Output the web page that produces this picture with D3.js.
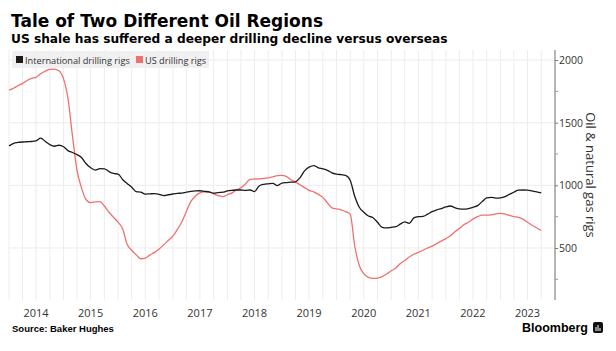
<!DOCTYPE html>
<html>
<head>
<meta charset="utf-8">
<script src="https://cdn.jsdelivr.net/npm/d3@7"></script>
<style>
  body { margin: 0; background: #fff; }
  svg { display: block; }
  text { font-family: "Open Sans", "Noto Sans", sans-serif; }
</style>
</head>
<body>
<div id="chart"></div>
<script>
// monthly readings, Jan 2014 onwards
const startYear = 2014;
const intlRigs = [
  1315, 1335, 1342, 1346, 1348, 1350, 1355, 1376, 1350, 1325, 1312, 1320,
  1308, 1275, 1262, 1245, 1222, 1172, 1140, 1122, 1133, 1132, 1110, 1095,
  1090, 1045, 1015, 985, 950, 945, 930, 932, 934, 928, 918, 925,
  931, 936, 938, 945, 952, 956, 957, 952, 948, 937, 942, 945,
  955, 960, 963, 963, 960, 963, 950, 995, 1008, 1012, 1015, 998,
  1018, 1022, 1025, 1028, 1060, 1115, 1145, 1157, 1140, 1132, 1120, 1100,
  1090, 1085, 1080, 1040, 915, 825, 785, 755, 742, 705, 665, 660,
  665, 670, 690, 708, 697, 740, 750, 752, 770, 790, 805, 815,
  828, 835, 822, 812, 810, 815, 825, 838, 870, 900, 904, 898,
  900, 910, 928, 945, 962, 963, 962, 955, 948, 940
];
const usRigs = [
  1760, 1775, 1795, 1812, 1835, 1854, 1862, 1890, 1912, 1925, 1928, 1915,
  1850, 1680, 1400, 1120, 980, 885, 862, 868, 870, 835, 785, 745,
  705, 650, 530, 482, 445, 414, 420, 445, 465, 492, 525, 560,
  595, 650, 705, 790, 870, 915, 940, 948, 945, 932, 918, 910,
  925, 940, 963, 980, 1010, 1048, 1050, 1052, 1055, 1060, 1068, 1078,
  1080, 1069, 1045, 1028, 1005, 982, 960, 948, 928, 904, 860, 820,
  812, 805, 790, 770, 520, 360, 295, 266, 258, 260, 272, 292,
  318, 340, 375, 400, 428, 450, 465, 482, 500, 515, 535, 555,
  575, 598, 628, 655, 685, 705, 730, 750, 763, 763, 765, 772,
  776, 771, 760, 750, 745, 730, 705, 682, 660, 640
];
const years = d3.range(2014, 2024);
const yTicks = [500, 1000, 1500, 2000];
const yMinor = [250, 750, 1250, 1750];
const seriesNames = ["International drilling rigs", "US drilling rigs"];
const seriesColors = ["#1a1a1a", "#f07070"];

const width = 616, height = 351;
const plot = {left: 9, right: 555, top: 50, bottom: 300};

const svg = d3.select("#chart").append("svg")
    .attr("width", width)
    .attr("height", height);

const x = d3.scaleTime()
    .domain([new Date(2014, 0, 1), new Date(2024, 0, 1)])
    .range([plot.left, plot.right]);

const y = d3.scaleLinear()
    .domain([85, 2080])
    .range([plot.bottom, plot.top]);

// title block
svg.append("text")
    .attr("x", 11).attr("y", 27)
    .style("font-family", "'DejaVu Sans', sans-serif")
    .style("font-weight", "bold")
    .style("font-size", "17px")
    .attr("fill", "#000")
    .text("Tale of Two Different Oil Regions");

svg.append("text")
    .attr("x", 11).attr("y", 43)
    .style("font-family", "'DejaVu Sans', sans-serif")
    .style("font-weight", "bold")
    .style("font-size", "12.2px")
    .attr("fill", "#000")
    .text("US shale has suffered a deeper drilling decline versus overseas");

// gridlines
const quarters = d3.timeMonth.every(3).range(new Date(2014, 0, 1), new Date(2024, 0, 2));
svg.append("g")
    .selectAll("line")
    .data(quarters)
    .join("line")
    .attr("x1", d => x(d)).attr("x2", d => x(d))
    .attr("y1", plot.top).attr("y2", plot.bottom)
    .attr("stroke", "#ececec")
    .attr("stroke-width", 1);

svg.append("g")
    .selectAll("line")
    .data(yTicks)
    .join("line")
    .attr("x1", plot.left).attr("x2", plot.right)
    .attr("y1", d => y(d)).attr("y2", d => y(d))
    .attr("stroke", "#ececec")
    .attr("stroke-width", 1);

// legend
const legend = svg.append("g");
legend.append("rect")
    .attr("x", 12).attr("y", 51)
    .attr("width", 197).attr("height", 17)
    .attr("fill", "#f0f0f0");
const legX = [16, 136];
seriesNames.forEach((name, i) => {
    legend.append("rect")
        .attr("x", legX[i]).attr("y", 56)
        .attr("width", 7).attr("height", 7)
        .attr("fill", seriesColors[i]);
    legend.append("text")
        .attr("x", legX[i] + 9).attr("y", 63.5)
        .style("font-size", "9.2px")
        .attr("fill", "#333")
        .text(name);
});

// lines
const line = d3.line()
    .x((d, i) => x(new Date(startYear, i, 1)))
    .y(d => y(d))
    .curve(d3.curveMonotoneX);

svg.append("path")
    .datum(usRigs)
    .attr("fill", "none")
    .attr("stroke", seriesColors[1])
    .attr("stroke-width", 1.3)
    .attr("d", line);

svg.append("path")
    .datum(intlRigs)
    .attr("fill", "none")
    .attr("stroke", seriesColors[0])
    .attr("stroke-width", 1.3)
    .attr("d", line);

// right axis
const yAxis = svg.append("g")
    .attr("transform", `translate(${plot.right},0)`)
    .call(d3.axisRight(y).tickValues(yTicks).tickFormat(d3.format("d")).tickSize(3).tickPadding(1));
yAxis.select(".domain").attr("stroke", "#777").attr("d", `M0,${plot.top}V${plot.bottom}`);
yAxis.selectAll(".tick line").attr("stroke", "#777");
yAxis.selectAll(".tick text")
    .style("font-family", "'Open Sans', sans-serif")
    .style("font-size", "10.5px")
    .attr("fill", "#333");

svg.append("g")
    .selectAll("line")
    .data(yMinor)
    .join("line")
    .attr("x1", plot.right).attr("x2", plot.right + 3)
    .attr("y1", d => y(d)).attr("y2", d => y(d))
    .attr("stroke", "#999");

svg.append("text")
    .attr("transform", "translate(586,175) rotate(90)")
    .attr("text-anchor", "middle")
    .style("font-size", "13px")
    .attr("fill", "#333")
    .text("Oil & natural gas rigs");

// x labels, centred in each year
svg.append("g")
    .selectAll("text")
    .data(years)
    .join("text")
    .attr("x", d => x(new Date(d, 6, 1)))
    .attr("y", 317)
    .attr("text-anchor", "middle")
    .style("font-size", "11px")
    .attr("fill", "#333")
    .text(d => d);

// footer
svg.append("text")
    .attr("x", 12).attr("y", 332)
    .style("font-family", "'Liberation Sans', Arial, sans-serif")
    .style("font-weight", "bold")
    .style("font-size", "9.5px")
    .attr("fill", "#000")
    .text("Source: Baker Hughes");

svg.append("text")
    .attr("x", 588).attr("y", 332)
    .attr("text-anchor", "end")
    .style("font-family", "'Liberation Sans', Arial, sans-serif")
    .style("font-weight", "bold")
    .style("font-size", "12.5px")
    .attr("fill", "#000")
    .text("Bloomberg");

const logo = svg.append("g").attr("transform", "translate(593,322)");
logo.append("rect")
    .attr("width", 10).attr("height", 11).attr("rx", 2)
    .attr("fill", "#111");
[3, 5, 7].forEach((bx, i) => {
    logo.append("line")
        .attr("x1", bx).attr("x2", bx)
        .attr("y1", [5, 3, 6][i]).attr("y2", 9)
        .attr("stroke", "#fff").attr("stroke-width", 1);
});
</script>
</body>
</html>
